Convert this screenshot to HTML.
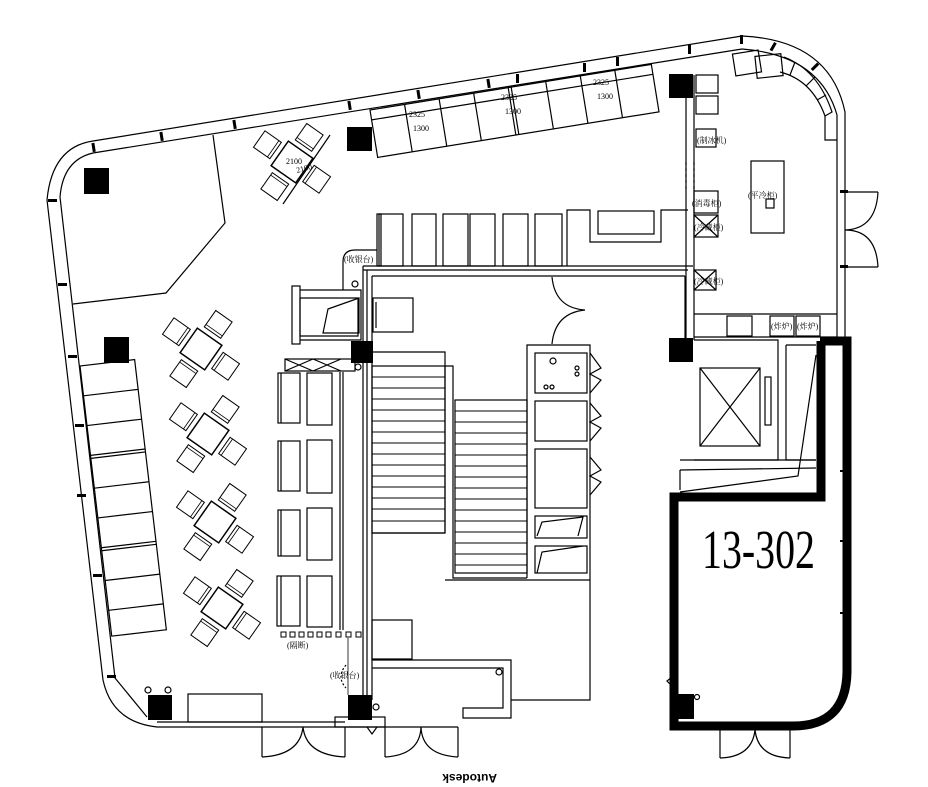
<!DOCTYPE html>
<html><head><meta charset="utf-8"><style>
html,body{margin:0;padding:0;background:#fff;}
svg{display:block;}
text{font-family:"Liberation Serif","Noto Serif CJK SC","Noto Sans CJK SC",serif;fill:#000;}
</style></head><body>
<svg width="928" height="787" viewBox="0 0 928 787" xmlns="http://www.w3.org/2000/svg">
<defs>
<g id="chair"><rect x="-10" y="-10" width="20" height="20" fill="none" stroke="#000" stroke-width="1"/><line x1="-10" y1="7" x2="10" y2="7" stroke="#000" stroke-width="0.8"/></g>
<g id="tset">
<rect x="-15" y="-15" width="30" height="30" fill="none" stroke="#000" stroke-width="1.5"/>
<use href="#chair" transform="translate(0,-30)"/>
<use href="#chair" transform="translate(30,0) rotate(90)"/>
<use href="#chair" transform="translate(0,30) rotate(180)"/>
<use href="#chair" transform="translate(-30,0) rotate(270)"/>
</g>
</defs>
<g fill="none" stroke="#000" stroke-width="1.2">
<path d="M742,36 L93,141 Q52,147 47,200 L103,680 Q112,722 157,727 L345,727"/>
<path d="M742,49 L93,153 Q63,160 60,197 L115,678 L147,717"/>
<path d="M742,36 Q830,40 845,112 L845,337"/>
<path d="M742,49 Q820,55 837,115 L837,337"/>
<line x1="157" y1="722" x2="345" y2="722"/>
<path d="M213,135 L225,223 L166,293 L73,304"/>
<g transform="translate(370,110) rotate(-9.2)">
<rect x="0" y="0" width="285" height="48"/>
<line x1="0" y1="10" x2="285" y2="10"/>
<line x1="35" y1="0" x2="35" y2="48"/><line x1="70" y1="0" x2="70" y2="48"/>
<line x1="105" y1="0" x2="105" y2="48"/><line x1="140" y1="0" x2="140" y2="48"/>
<line x1="143" y1="0" x2="143" y2="48"/><line x1="178" y1="0" x2="178" y2="48"/>
<line x1="213" y1="0" x2="213" y2="48"/><line x1="248" y1="0" x2="248" y2="48"/>
</g>
<g transform="translate(80,366) rotate(-6.7)">
<rect x="0" y="0" width="55" height="272"/>
<line x1="0" y1="30" x2="55" y2="30"/><line x1="0" y1="60" x2="55" y2="60"/>
<line x1="0" y1="90" x2="55" y2="90"/><line x1="0" y1="93" x2="55" y2="93"/>
<line x1="0" y1="123" x2="55" y2="123"/><line x1="0" y1="153" x2="55" y2="153"/>
<line x1="0" y1="183" x2="55" y2="183"/><line x1="0" y1="186" x2="55" y2="186"/>
<line x1="0" y1="216" x2="55" y2="216"/><line x1="0" y1="246" x2="55" y2="246"/>
</g>
<use href="#tset" transform="translate(201,349) rotate(35)"/>
<use href="#tset" transform="translate(208,434) rotate(35)"/>
<use href="#tset" transform="translate(215,522) rotate(35)"/>
<use href="#tset" transform="translate(222,608) rotate(35)"/>
<use href="#tset" transform="translate(292,162) rotate(35)"/>
<line x1="330" y1="135" x2="283" y2="204"/>
<rect x="377" y="214" width="26" height="52"/><rect x="379" y="214" width="2" height="52"/>
<rect x="412" y="214" width="24" height="52"/>
<rect x="443" y="214" width="25" height="52"/><rect x="470" y="214" width="25" height="52"/>
<rect x="503" y="214" width="25" height="52"/><rect x="535" y="214" width="27" height="52"/>
<path d="M567,266 L567,210 L590,210 L590,242 L661,242 L661,210 L688,210"/>
<rect x="598" y="211" width="56" height="23"/>
<path d="M343,290 L343,262 Q343,250 355,250 L377,250"/>
<line x1="363" y1="266" x2="693" y2="266"/>
<line x1="363" y1="270" x2="688" y2="270"/>
<line x1="372" y1="276" x2="685" y2="276"/>
<line x1="363" y1="266" x2="363" y2="700"/>
<line x1="367" y1="270" x2="367" y2="700"/>
<line x1="372" y1="276" x2="372" y2="700"/>
<line x1="686" y1="75" x2="686" y2="340"/>
<line x1="694" y1="75" x2="694" y2="340"/>
<line x1="685" y1="276" x2="685" y2="340"/>
<path d="M552,277 Q555,308 585,310 M552,344 Q555,313 585,310"/>
<rect x="292" y="286" width="8" height="58"/>
<path d="M300,290 L361,290 L361,340 L300,340"/>
<path d="M300,298 L358,298 L358,336 L300,336 L300,298"/>
<path d="M328,309 L359,298 L359,333 L323,333 Z"/>
<rect x="373" y="298" width="40" height="34"/>
<line x1="376" y1="302" x2="376" y2="328"/>
<rect x="285" y="359" width="70" height="12"/>
<path d="M285,359 L313,371 M313,359 L285,371 M313,359 L341,371 M341,359 L313,371"/>
<circle cx="358" cy="367" r="3"/><circle cx="355" cy="284" r="3"/>
<rect x="278" y="373" width="22" height="50"/><line x1="281" y1="373" x2="281" y2="423"/>
<rect x="307" y="373" width="25" height="52"/>
<rect x="278" y="441" width="22" height="50"/><line x1="281" y1="441" x2="281" y2="491"/>
<rect x="307" y="440" width="25" height="53"/>
<rect x="278" y="510" width="22" height="46"/><line x1="281" y1="510" x2="281" y2="556"/>
<rect x="307" y="508" width="25" height="52"/>
<rect x="277" y="576" width="23" height="50"/><line x1="281" y1="576" x2="281" y2="626"/>
<rect x="307" y="576" width="25" height="51"/>
<line x1="340" y1="372" x2="340" y2="630"/><line x1="343" y1="372" x2="343" y2="630"/>
<g stroke-width="1">
<rect x="281" y="632" width="5" height="5"/><rect x="290" y="632" width="5" height="5"/><rect x="299" y="632" width="5" height="5"/>
<rect x="308" y="632" width="5" height="5"/><rect x="317" y="632" width="5" height="5"/><rect x="326" y="632" width="5" height="5"/>
<rect x="336" y="632" width="5" height="5"/><rect x="346" y="632" width="5" height="5"/><rect x="356" y="632" width="5" height="5"/>
</g>
<line x1="348" y1="638" x2="348" y2="695" stroke-width="0.8"/>
<path d="M346,665 Q336,677 346,688" stroke-dasharray="2,2"/>
<path d="M372,352 L445,352 L445,366 L453,366 L453,578 L527,578 M445,366 L445,533 M372,533 L445,533"/>
<rect x="372" y="366" width="73" height="167"/>
<g stroke-width="1">
<line x1="372" y1="377" x2="445" y2="377"/><line x1="372" y1="388" x2="445" y2="388"/>
<line x1="372" y1="399" x2="445" y2="399"/><line x1="372" y1="410" x2="445" y2="410"/>
<line x1="372" y1="421" x2="445" y2="421"/><line x1="372" y1="432" x2="445" y2="432"/>
<line x1="372" y1="443" x2="445" y2="443"/><line x1="372" y1="454" x2="445" y2="454"/>
<line x1="372" y1="465" x2="445" y2="465"/><line x1="372" y1="476" x2="445" y2="476"/>
<line x1="372" y1="487" x2="445" y2="487"/><line x1="372" y1="498" x2="445" y2="498"/>
<line x1="372" y1="509" x2="445" y2="509"/><line x1="372" y1="521" x2="445" y2="521"/>
</g>
<rect x="455" y="400" width="72" height="173"/>
<g stroke-width="1">
<line x1="455" y1="411" x2="527" y2="411"/><line x1="455" y1="422" x2="527" y2="422"/>
<line x1="455" y1="433" x2="527" y2="433"/><line x1="455" y1="444" x2="527" y2="444"/>
<line x1="455" y1="455" x2="527" y2="455"/><line x1="455" y1="466" x2="527" y2="466"/>
<line x1="455" y1="477" x2="527" y2="477"/><line x1="455" y1="488" x2="527" y2="488"/>
<line x1="455" y1="499" x2="527" y2="499"/><line x1="455" y1="510" x2="527" y2="510"/>
<line x1="455" y1="521" x2="527" y2="521"/><line x1="455" y1="532" x2="527" y2="532"/>
<line x1="455" y1="543" x2="527" y2="543"/><line x1="455" y1="554" x2="527" y2="554"/>
<line x1="455" y1="565" x2="527" y2="565"/>
</g>
<line x1="445" y1="580" x2="590" y2="580"/>
<path d="M527,578 L527,345 L590,345 L590,700 L511,700"/>
<rect x="535" y="353" width="52" height="40"/><circle cx="553" cy="361" r="3"/><circle cx="577" cy="368" r="2"/><circle cx="577" cy="374" r="2"/><circle cx="546" cy="387" r="2"/><circle cx="552" cy="387" r="2"/>
<rect x="535" y="401" width="52" height="40"/>
<rect x="535" y="449" width="52" height="59"/>
<rect x="535" y="516" width="52" height="22"/>
<path d="M537,536 L542,522 L583,517 L578,536"/>
<rect x="535" y="546" width="52" height="27"/>
<path d="M537,573 L542,552 L583,546"/>
<path d="M590,353 L601,368 L590,374 L601,380 L590,393 M590,403 L601,416 L590,422 L601,428 L590,441 M590,457 L601,470 L590,476 L601,482 L590,495"/>
<rect x="372" y="620" width="40" height="39"/>
<path d="M372,660 L511,660 L511,718 L463,718 L463,708 L503,708 L503,668 L372,668"/>
<circle cx="499" cy="672" r="3"/>
<rect x="188" y="694" width="74" height="28"/>
<circle cx="148" cy="690" r="3"/><circle cx="168" cy="690" r="3"/>
<rect x="335" y="717" width="50" height="10"/>
<circle cx="376" cy="707" r="3"/>
<path d="M262,727 L262,757 M345,727 L345,757 M262,757 Q300,755 303,727 M345,757 Q306,755 303,727"/>
<path d="M385,727 L385,757 M458,727 L458,757 M385,757 Q420,755 421,727 M458,757 Q422,755 421,727"/>
<line x1="345" y1="727" x2="458" y2="727"/>
<path d="M367,727 L372,734 L377,727"/>
<rect x="734" y="52" width="26" height="22" transform="rotate(-9 747 63)"/>
<rect x="756" y="55" width="26" height="22" transform="rotate(-6 769 66)"/>
<path d="M784,57 Q818,70 832,112 L825,116 Q812,80 780,72"/>
<path d="M795,62 L790,75 M815,77 L806,86 M826,95 L817,100 M825,116 L825,140 L837,140"/>
<rect x="696" y="75" width="22" height="18"/><rect x="696" y="96" width="22" height="18"/>
<rect x="696" y="129" width="20" height="18"/>
<line x1="686" y1="162" x2="686" y2="190" stroke-dasharray="3,3"/>
<line x1="694" y1="162" x2="694" y2="190" stroke-dasharray="3,3"/>
<rect x="694" y="191" width="24" height="22"/>
<rect x="694" y="215" width="24" height="22"/><path d="M694,215 L718,237 M718,215 L694,237"/>
<rect x="694" y="270" width="22" height="20"/><path d="M694,270 L716,290 M716,270 L694,290"/>
<rect x="751" y="161" width="33" height="72"/>
<rect x="766" y="199" width="8" height="9"/>
<line x1="694" y1="314" x2="837" y2="314"/>
<line x1="694" y1="337" x2="837" y2="337"/>
<rect x="727" y="316" width="25" height="20"/>
<rect x="770" y="316" width="24" height="20"/><rect x="796" y="316" width="24" height="20"/>
<path d="M845,192 L878,192 M845,267 L878,267 M878,192 Q876,229 845,230 M878,267 Q876,230 845,230"/>
<path d="M694,340 L778,340 L778,460 L694,460"/>
<rect x="700" y="368" width="60" height="78"/>
<path d="M700,368 L760,446 M760,368 L700,446"/>
<rect x="765" y="377" width="6" height="48"/>
<path d="M786,345 L816,345 M786,345 L786,460 L816,460"/>
<path d="M680,460 L816,460 M680,470 L816,468 M680,470 L680,490 M816,355 L798,476 L680,492"/>
<path d="M667,681 L672,677 L672,686 Z"/>
<circle cx="697" cy="697" r="2.5"/>
<path d="M720,730 L720,758 M790,730 L790,758 M720,758 Q752,757 755,730 M790,758 Q758,757 755,730"/>
</g>
<g fill="none" stroke="#000" stroke-width="9">
<path d="M821,341 L821,497 L674,497 L674,726 L793,726 Q846,726 847,672 L847,341 L820,341"/>
</g>
<g fill="#000">
<rect x="84" y="168" width="25" height="26"/>
<rect x="347" y="127" width="25" height="24"/>
<rect x="104" y="337" width="25" height="26"/>
<rect x="351" y="341" width="22" height="22"/>
<rect x="669" y="74" width="24" height="24"/>
<rect x="669" y="338" width="24" height="24"/>
<rect x="348" y="695" width="24" height="25"/>
<rect x="148" y="695" width="24" height="25"/>
<rect x="674" y="694" width="20" height="25"/>
<rect x="92" y="143" width="3" height="9" transform="rotate(-9 93 147)"/>
<rect x="160" y="132" width="3" height="9" transform="rotate(-9 161 136)"/>
<rect x="233" y="120" width="3" height="9" transform="rotate(-9 234 124)"/>
<rect x="348" y="101" width="3" height="9" transform="rotate(-9 349 105)"/>
<rect x="417" y="90" width="3" height="9" transform="rotate(-9 418 94)"/>
<rect x="487" y="79" width="3" height="9" transform="rotate(-9 488 83)"/>
<rect x="516" y="74" width="3" height="9"/>
<rect x="583" y="63" width="3" height="9"/>
<rect x="616" y="57" width="3" height="9"/>
<rect x="688" y="45" width="3" height="9"/>
<rect x="740" y="35" width="3" height="9"/>
<rect x="772" y="42" width="3" height="9" transform="rotate(30 773 46)"/>
<rect x="814" y="62" width="3" height="9" transform="rotate(45 815 66)"/>
<rect x="48" y="199" width="9" height="3"/>
<rect x="58" y="283" width="9" height="3"/>
<rect x="68" y="355" width="9" height="3"/>
<rect x="75" y="424" width="9" height="3"/>
<rect x="77" y="494" width="9" height="3"/>
<rect x="93" y="574" width="9" height="3"/>
<rect x="107" y="675" width="9" height="3"/>
<rect x="840" y="190" width="8" height="3"/><rect x="840" y="265" width="8" height="3"/>
<rect x="840" y="470" width="6" height="2"/><rect x="840" y="540" width="6" height="2"/>
<rect x="840" y="612" width="6" height="2"/>
</g>
<g font-size="8">
<text x="286" y="164">2100</text>
<text x="297" y="173" transform="rotate(-15 297 173)">2100</text>
<text x="409" y="117">2325</text><text x="413" y="131">1300</text>
<text x="501" y="100">2325</text><text x="505" y="114">1300</text>
<text x="593" y="85">2325</text><text x="597" y="99">1300</text>
<text x="344" y="262">(收银台)</text>
<text x="287" y="648">(隔断)</text>
<text x="330" y="678">(收银台)</text>
<text x="697" y="143">(制冰机)</text>
<text x="692" y="206">(消毒柜)</text>
<text x="694" y="230">(冷藏柜)</text>
<text x="694" y="284">(冷藏柜)</text>
<text x="748" y="198">(平冷柜)</text>
<text x="771" y="329">(炸炉)</text><text x="797" y="329">(炸炉)</text>
</g>
<text x="702" y="568" font-size="55" textLength="113" lengthAdjust="spacingAndGlyphs">13-302</text>
<text x="0" y="0" font-size="12" font-weight="bold" transform="translate(497,774) rotate(180)" style="font-family:'Liberation Sans',sans-serif">Autodesk</text>
</svg>
</body></html>
